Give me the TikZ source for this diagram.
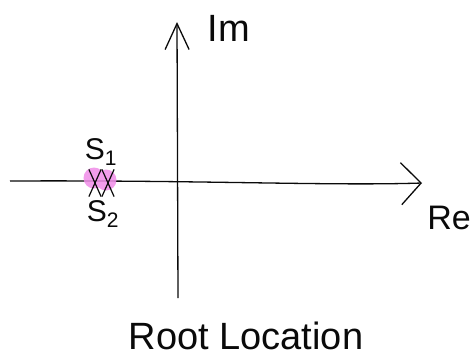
\documentclass[tikz,border=0pt]{standalone}
\usepackage{fontspec}
\setmainfont{Liberation Sans}
\usetikzlibrary{arrows.meta,shapes.misc}
\definecolor{ink}{RGB}{10,10,10}
\definecolor{glow}{RGB}{240,140,232}
\tikzset{
  axis/.style={line width=1.3pt,draw=ink},
  pole/.style={cross out,draw=ink,line width=1.2pt,minimum width=11pt,minimum height=26pt,inner sep=0pt},
  label/.style={font=\fontsize{38}{44}\selectfont,text=ink,inner sep=0pt},
  sublabel/.style={font=\fontsize{30}{34}\selectfont,text=ink,inner sep=0pt}
}
\begin{document}
\begin{tikzpicture}[x=1pt,y=-1pt]
  \useasboundingbox (0,0) rectangle (474,362);
  \fill[white] (0,0) rectangle (474,362);
  % axes
  \coordinate (west) at (10,181);
  \coordinate (east) at (422,183);
  \coordinate (south) at (178,298);
  \coordinate (north) at (177,22);
  \draw[axis,-{Straight Barb[length=20pt,width=42pt,line width=1.3pt]}] (west) .. controls (200,180) and (330,186) .. (east);
  \draw[axis,-{Straight Barb[length=26pt,width=24pt,line width=1.3pt]}] (south) -- (north);
  \node[label] (im) at (229,28) {Im};
  \node[label,font=\fontsize{34}{40}\selectfont,anchor=east] (re) at (471,218) {Re};
  % poles
  \fill[glow,opacity=0.85] (94,178) circle (10.5pt) (106,180) circle (10.5pt);
  \node[pole] (s1x) at (95,183) {};
  \node[pole] (s2x) at (108,183) {};
  \node[sublabel] (s1) at (101,152) {S\textsubscript{1}};
  \node[sublabel] (s2) at (103,214) {S\textsubscript{2}};
  \node[label] (title) at (246,336) {Root Location};
\end{tikzpicture}
\end{document}
